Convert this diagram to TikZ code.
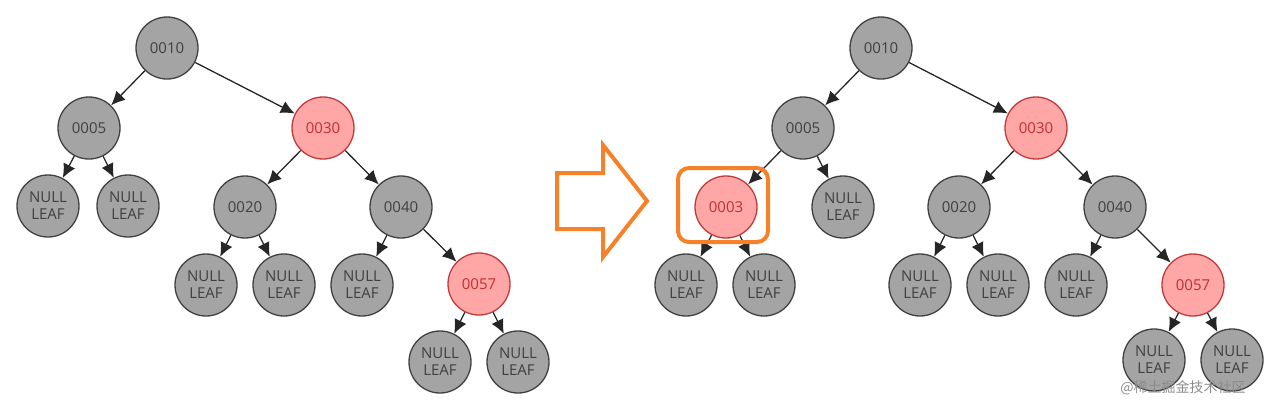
\documentclass[tikz,border=0pt]{standalone}
\usepackage{fontspec}
\setmainfont{Open Sans}
\newfontfamily\cjk{Noto Sans CJK SC}
\usetikzlibrary{arrows.meta}
\definecolor{nodegray}{HTML}{A4A4A4}
\definecolor{nodered}{HTML}{FFA6A6}
\definecolor{redline}{HTML}{C03A3A}
\definecolor{redtext}{HTML}{C03030}
\definecolor{orangeline}{HTML}{F5822A}
\tikzset{
  nd/.style={circle, minimum size=62pt, inner sep=0pt, draw=black!75, line width=1.3pt, fill=nodegray, text=black!75, font=\fontsize{15}{17}\selectfont, align=center},
  rd/.style={nd, fill=nodered, draw=redline, text=redtext},
  edge/.style={line width=1.3pt, draw=black!85, -{Latex[length=14pt,width=13pt]}},
  hl/.style={draw=orangeline, line width=4pt, rounded corners=11pt},
  bigarrow/.style={draw=orangeline, line width=4pt, line join=miter}
}
\begin{document}
\begin{tikzpicture}[x=1pt,y=-1pt]
\useasboundingbox (0,0) rectangle (1278,410);
% ---------- left tree ----------
\node[nd] (a10) at (167,48) {0010};
\node[nd] (a05) at (89,128) {0005};
\node[rd] (a30) at (323,128) {0030};
\node[nd] (aL1) at (48,206) {NULL\\LEAF};
\node[nd] (aL2) at (128,206) {NULL\\LEAF};
\node[nd] (a20) at (245,207) {0020};
\node[nd] (a40) at (401,207) {0040};
\node[nd] (aL3) at (206,285) {NULL\\LEAF};
\node[nd] (aL4) at (284,285) {NULL\\LEAF};
\node[nd] (aL5) at (362,285) {NULL\\LEAF};
\node[rd] (a57) at (479,284) {0057};
\node[nd] (aL6) at (440,362) {NULL\\LEAF};
\node[nd] (aL7) at (518,362) {NULL\\LEAF};
\draw[edge] (a10) -- (a05);
\draw[edge] (a10) -- (a30);
\draw[edge] (a05) -- (aL1);
\draw[edge] (a05) -- (aL2);
\draw[edge] (a30) -- (a20);
\draw[edge] (a30) -- (a40);
\draw[edge] (a20) -- (aL3);
\draw[edge] (a20) -- (aL4);
\draw[edge] (a40) -- (aL5);
\draw[edge] (a40) -- (a57);
\draw[edge] (a57) -- (aL6);
\draw[edge] (a57) -- (aL7);
% ---------- arrow ----------
\draw[bigarrow] (557,173) -- (603,173) -- (603,145) -- (647,201) -- (603,257) -- (603,229) -- (557,229) -- cycle;
% ---------- right tree ----------
\node[nd] (b10) at (881,48) {0010};
\node[nd] (b05) at (803,128) {0005};
\node[rd] (b30) at (1036,128) {0030};
\node[rd] (b03) at (726,207) {0003};
\node[nd] (bL0) at (843,207) {NULL\\LEAF};
\node[nd] (b20) at (959,207) {0020};
\node[nd] (b40) at (1115,207) {0040};
\node[nd] (bL1) at (686,285) {NULL\\LEAF};
\node[nd] (bL2) at (764,285) {NULL\\LEAF};
\node[nd] (bL3) at (920,285) {NULL\\LEAF};
\node[nd] (bL4) at (998,285) {NULL\\LEAF};
\node[nd] (bL5) at (1076,285) {NULL\\LEAF};
\node[rd] (b57) at (1193,285) {0057};
\node[nd] (bL6) at (1154,360) {NULL\\LEAF};
\node[nd] (bL7) at (1232,360) {NULL\\LEAF};
\draw[edge] (b10) -- (b05);
\draw[edge] (b10) -- (b30);
\draw[edge] (b05) -- (b03);
\draw[edge] (b05) -- (bL0);
\draw[edge] (b03) -- (bL1);
\draw[edge] (b03) -- (bL2);
\draw[edge] (b30) -- (b20);
\draw[edge] (b30) -- (b40);
\draw[edge] (b20) -- (bL3);
\draw[edge] (b20) -- (bL4);
\draw[edge] (b40) -- (bL5);
\draw[edge] (b40) -- (b57);
\draw[edge] (b57) -- (bL6);
\draw[edge] (b57) -- (bL7);
\node[hl, minimum width=90pt, minimum height=74pt, inner sep=0pt] (box) at (723,205) {};
% ---------- watermark ----------
\node[text=black!45, font=\cjk\fontsize{14}{14}\selectfont, inner sep=0pt] (wm) at (1183,388) {@稀土掘金技术社区};
\end{tikzpicture}
\end{document}
